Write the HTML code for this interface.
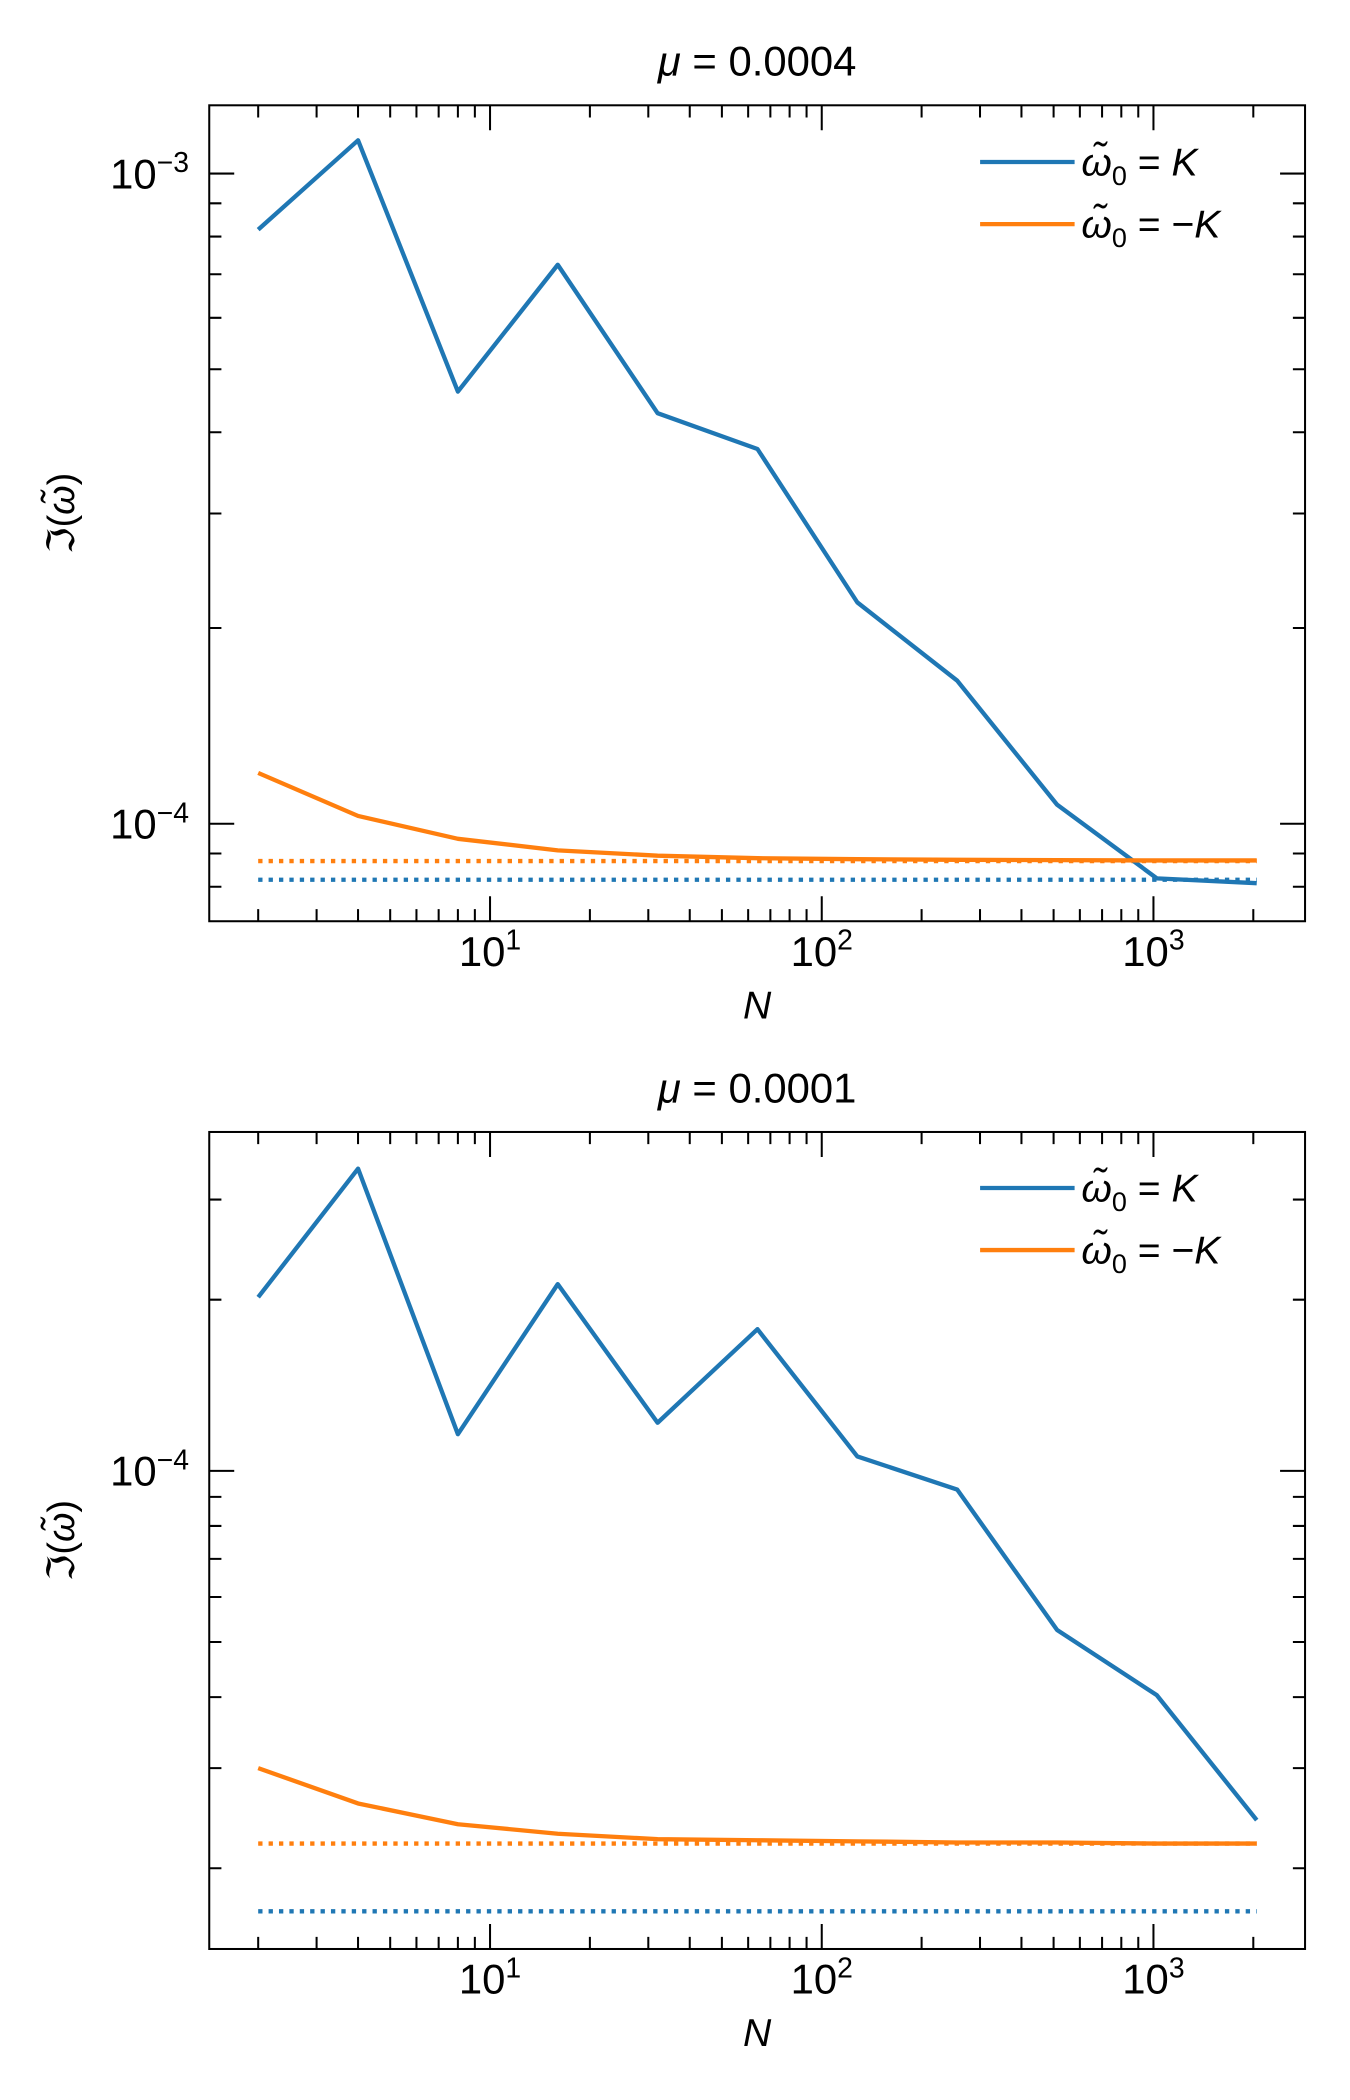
<!DOCTYPE html>
<html><head><meta charset="utf-8"><style>
html,body{margin:0;padding:0;background:#fff}
svg{display:block;font-family:"Liberation Sans","DejaVu Sans",sans-serif}
</style></head><body>
<svg id="fig" width="1350" height="2100" viewBox="0 0 1000 1555.56" xmlns="http://www.w3.org/2000/svg"></svg>
<script>
const nValues=[2,4,8,16,32,64,128,256,512,1024,2048];
const topBlue=[8.2e-4,1.125e-3,4.62e-4,7.24e-4,4.28e-4,3.77e-4,2.19e-4,1.66e-4,1.07e-4,8.24e-5,8.1e-5];
const topOrange=[1.197e-4,1.028e-4,9.48e-5,9.1e-5,8.93e-5,8.85e-5,8.82e-5,8.8e-5,8.79e-5,8.78e-5,8.78e-5];
const topBlueRef=[8.2e-5];
const topOrangeRef=[8.76e-5];
const botBlue=[2.02e-4,3.40e-4,1.16e-4,2.13e-4,1.215e-4,1.775e-4,1.06e-4,9.27e-5,5.25e-5,4.03e-5,2.43e-5];
const botOrange=[3.0e-5,2.6e-5,2.39e-5,2.30e-5,2.25e-5,2.24e-5,2.23e-5,2.22e-5,2.22e-5,2.21e-5,2.21e-5];
const botBlueRef=[1.68e-5];
const botOrangeRef=[2.21e-5];
const xTickLabels=["10","10","10"];
const xTickExps=["1","2","3"];
const topTitle="0.0004", botTitle="0.0001";

const NS="http://www.w3.org/2000/svg";
const svg=document.getElementById('fig');
const BLUE="#1f77b4",ORANGE="#ff7f0e";
function mk(tag,attrs,parent){const e=document.createElementNS(NS,tag);for(const k in attrs)e.setAttribute(k,attrs[k]);(parent||svg).appendChild(e);return e;}

function panel(p){
  const g=mk('g',{});
  
  
  const L=155,R=966.7,T=p.top,B=p.bottom,XL=0.1535,XR=3.457;
  const xs=v=>L+(Math.log10(v)-XL)/(XR-XL)*(R-L);
  const ys=v=>T+(p.ymaxLog-Math.log10(v))/(p.ymaxLog-p.yminLog)*(B-T);
  const cx=(L+R)/2;
  const t=mk('text',{x:cx,y:T-22,'text-anchor':'middle','font-size':31},g);
  
  t.innerHTML='<tspan font-style="italic">μ</tspan> = '+p.title;
  for(let d=0;d<=4;d++)for(let m=1;m<10;m++){const v=m*Math.pow(10,d);const x=xs(v);if(x<L+0.5||x>R-0.5)continue;const len=m===1?18.5:9;
    const tk=mk('path',{d:`M${x},${B}v${-len}M${x},${T}v${len}`,stroke:'#000','stroke-width':1.5},g);
    }
  for(let i=0;i<3;i++){const x=xs(Math.pow(10,i+1));
    const lb=mk('text',{x:x,y:B+33,'text-anchor':'middle','font-size':31},g);
    
    lb.innerHTML=xTickLabels[i]+'<tspan dy="-12" font-size="21">'+xTickExps[i]+'</tspan>';}
  for(let d=-6;d<=-2;d++)for(let m=1;m<10;m++){const v=m*Math.pow(10,d);const y=ys(v);if(y<T+0.5||y>B-0.5)continue;const len=m===1?18.5:9;
    const tk=mk('path',{d:`M${L},${y}h${len}M${R},${y}h${-len}`,stroke:'#000','stroke-width':1.5},g);
    
    if(m===1){const lb=mk('text',{x:140,y:y+11,'text-anchor':'end','font-size':31},g);
      
      lb.innerHTML='10<tspan dy="-12" font-size="21">−'+(-d)+'</tspan>';}}
  [[p.blueRef,BLUE,'blue-reference-line'],[p.orangeRef,ORANGE,'orange-reference-line']].forEach(([arr,c,n])=>{
    const y=ys(arr[0]);const l=mk('line',{x1:xs(nValues[0]),x2:xs(nValues[nValues.length-1]),y1:y,y2:y,stroke:c,'stroke-width':3.2,'stroke-dasharray':'3.2,4.5'},g);
    });
  [[p.blue,BLUE,'blue-series-line'],[p.orange,ORANGE,'orange-series-line']].forEach(([arr,c,n])=>{
    const pts=arr.map((v,i)=>xs(nValues[i]).toFixed(2)+','+ys(v).toFixed(2)).join(' ');
    const l=mk('polyline',{points:pts,fill:'none',stroke:c,'stroke-width':3.2,'stroke-linejoin':'round'},g);
    });
  const fr=mk('rect',{x:L,y:T,width:R-L,height:B-T,fill:'none',stroke:'#000','stroke-width':1.5},g);
  
  [[BLUE,p.legY],[ORANGE,p.legY+46]].forEach(([c,y],i)=>{
    const le=mk('g',{},g);
    mk('line',{x1:726,x2:796,y1:y,y2:y,stroke:c,'stroke-width':3.2},le);
    const tx=mk('text',{x:801,y:y+10,'font-size':29},le);
    tx.innerHTML='<tspan font-style="italic">ω̃</tspan><tspan font-size="20" dy="7">0</tspan><tspan dy="-7"> = </tspan>'+(i===0?'':'−')+'<tspan font-style="italic">K</tspan>';});
  const xl=mk('text',{x:cx,y:B+72,'text-anchor':'middle','font-size':29,'font-style':'italic'},g);
  xl.textContent='N';
  const cy=(T+B)/2;
  const yl=mk('text',{x:55,y:cy,'text-anchor':'middle','font-size':28,transform:`rotate(-90 55 ${cy})`},g);
  
  yl.innerHTML='ℑ(<tspan font-style="italic">ω̃</tspan>)';
}
panel({name:'top-panel',top:78,bottom:682.4,ymaxLog:-2.895,yminLog:-4.150,title:topTitle,blue:topBlue,orange:topOrange,blueRef:topBlueRef,orangeRef:topOrangeRef,legY:120});
panel({name:'bottom-panel',top:838.5,bottom:1443.7,ymaxLog:-3.404,yminLog:-4.841,title:botTitle,blue:botBlue,orange:botOrange,blueRef:botBlueRef,orangeRef:botOrangeRef,legY:880});
</script>
</body></html>
